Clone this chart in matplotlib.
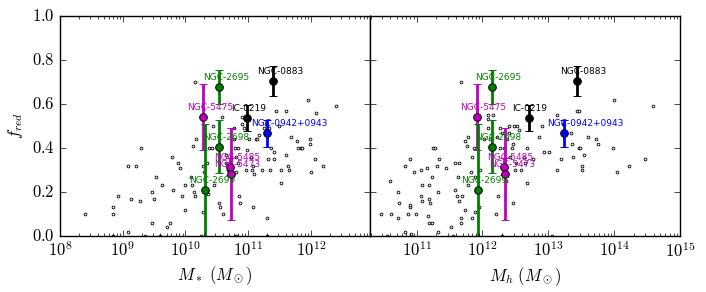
import numpy as np
import matplotlib
matplotlib.use('Agg')
import matplotlib.pyplot as plt
from matplotlib.ticker import FuncFormatter, FormatStrFormatter, LogLocator

plt.style.use('classic')
plt.rcParams['mathtext.fontset'] = 'cm'

# all galaxies: log10 stellar mass and red fraction (left panel)
lgms_all = [8.40, 8.84, 8.84, 8.92, 9.08, 9.13, 9.22, 9.27, 9.29, 9.50, 9.53, 9.47,
            9.63, 9.46, 9.71, 9.75, 9.79, 9.81, 9.89, 9.92, 9.95, 10.0, 10.0, 10.15,
            10.12, 10.17, 10.09, 10.11, 10.13, 10.16, 10.28, 10.28, 10.29, 10.35, 10.36,
            10.37, 10.42, 10.44, 10.45, 10.53, 10.55, 10.58, 10.60, 10.64, 10.64, 10.68,
            10.72, 10.77, 10.77, 10.79, 10.81, 10.84, 10.84, 10.85, 10.87, 10.81, 10.91,
            10.91, 10.93, 10.96, 10.99, 11.01, 11.05, 11.07, 11.08, 11.08, 11.09, 11.12,
            11.15, 11.17, 11.22, 11.25, 11.29, 11.30, 11.31, 11.33, 11.35, 11.37, 11.41,
            11.42, 11.45, 11.50, 11.52, 11.52, 11.61, 11.60, 11.64, 11.66, 11.68, 11.78,
            11.80, 11.84, 11.86, 11.95, 11.98, 11.99, 12.01, 12.07, 12.09, 12.20, 12.41,
            9.08, 8.85, 9.35, 9.60, 10.25, 10.80, 11.30]
fred_ms = [0.10, 0.13, 0.10, 0.18, 0.32, 0.17, 0.32, 0.16, 0.40, 0.17, 0.27, 0.20,
           0.23, 0.06, 0.04, 0.06, 0.36, 0.21, 0.33, 0.31, 0.18, 0.23, 0.12, 0.70,
           0.41, 0.44, 0.27, 0.23, 0.20, 0.18, 0.11, 0.32, 0.29, 0.33, 0.19,
           0.40, 0.40, 0.50, 0.23, 0.15, 0.13, 0.54, 0.10, 0.37, 0.33, 0.30,
           0.36, 0.49, 0.44, 0.40, 0.36, 0.40, 0.33, 0.18, 0.15, 0.29, 0.54,
           0.51, 0.49, 0.30, 0.39, 0.44, 0.36, 0.30, 0.13, 0.32, 0.28, 0.44,
           0.44, 0.46, 0.30, 0.49, 0.51, 0.08, 0.35, 0.49, 0.30, 0.40, 0.35,
           0.38, 0.57, 0.50, 0.30, 0.24, 0.57, 0.37, 0.32, 0.30, 0.45, 0.43,
           0.40, 0.40, 0.40, 0.62, 0.42, 0.44, 0.29, 0.35, 0.56, 0.32, 0.59,
           0.02, 0.0, 0.0, 0.0, 0.0, 0.0, 0.0]

# all galaxies: log10 halo mass and red fraction (right panel)
lgmh_all = [10.46, 10.60, 10.61, 10.71, 10.72, 10.73, 10.83, 10.87, 10.90, 10.90, 10.90,
            10.96, 10.99, 11.06, 11.07, 11.08, 11.08, 11.15, 11.18, 11.19, 11.20, 11.17,
            11.19, 11.24, 11.23, 11.25, 11.28, 11.31, 11.32, 11.34, 11.45, 11.52, 11.58,
            11.58, 11.61, 11.63, 11.64, 11.65, 11.67, 11.68, 11.67, 11.69, 11.73, 11.74,
            11.76, 11.78, 11.78, 11.84, 11.82, 11.84, 11.87, 11.88, 11.89, 11.94, 11.97,
            12.03, 12.08, 12.09, 12.12, 12.09, 12.16, 12.20, 12.22, 12.24, 12.26, 12.27,
            12.29, 12.32, 12.36, 12.37, 12.41, 12.40, 12.42, 12.45, 12.46, 12.47, 12.48,
            12.50, 12.51, 12.53, 12.56, 12.58, 12.63, 12.65, 12.68, 12.68, 12.77, 12.86,
            12.91, 12.93, 13.01, 13.13, 13.14, 13.20, 13.22, 13.23, 13.35, 13.36, 13.38,
            13.44, 13.46, 13.46, 13.48, 13.51, 13.52, 13.55, 13.60, 13.72, 13.75, 13.98,
            14.00, 14.04, 14.22, 14.47, 14.59,
            10.82, 10.92, 11.33, 10.55, 11.55, 12.30, 13.05]
fred_mh = [0.10, 0.25, 0.10, 0.20, 0.08, 0.15, 0.32, 0.10, 0.35, 0.13, 0.14,
           0.29, 0.10, 0.30, 0.18, 0.23, 0.16, 0.31, 0.23, 0.17, 0.15, 0.09,
           0.06, 0.06, 0.27, 0.40, 0.40, 0.32, 0.20, 0.35, 0.31, 0.04, 0.33,
           0.21, 0.18, 0.27, 0.33, 0.16, 0.06, 0.70, 0.08, 0.18, 0.12, 0.43,
           0.41, 0.45, 0.23, 0.08, 0.29, 0.36, 0.40, 0.11, 0.27, 0.13, 0.30,
           0.44, 0.53, 0.55, 0.44, 0.49, 0.55, 0.10, 0.45, 0.18, 0.40, 0.49,
           0.47, 0.40, 0.25, 0.44, 0.47, 0.50, 0.36, 0.40, 0.42, 0.15, 0.50,
           0.30, 0.33, 0.50, 0.48, 0.30, 0.36, 0.33, 0.40, 0.24, 0.35, 0.45,
           0.50, 0.38, 0.38, 0.30, 0.55, 0.35, 0.47, 0.51, 0.47, 0.42, 0.36,
           0.57, 0.57, 0.40, 0.40, 0.32, 0.30, 0.37, 0.45, 0.44, 0.42, 0.40,
           0.62, 0.29, 0.32, 0.35, 0.59,
           0.02, 0.01, 0.02, 0.0, 0.0, 0.0, 0.0]

# highlighted groups
names = ['NGC-5475', 'NGC-2695', 'NGC-2698', 'NGC-2699', 'NGC-5485', 'NGC-5473',
         'IC-0219', 'NGC-0883', 'NGC-0942+0943']
colors = ['m', 'g', 'g', 'g', 'm', 'm', 'k', 'k', 'b']
lgms_hl = [10.28, 10.54, 10.54, 10.31, 10.71, 10.72, 10.98, 11.40, 11.30]
lgmh_hl = [11.92, 12.15, 12.15, 11.93, 12.33, 12.35, 12.70, 13.43, 13.24]
fred_hl = [0.54, 0.676, 0.406, 0.209, 0.315, 0.282, 0.535, 0.705, 0.467]
ferr_hl = [0.15, 0.077, 0.12, 0.30, 0.04, 0.21, 0.06, 0.07, 0.062]

fig, (ax1, ax2) = plt.subplots(1, 2, figsize=(7.06, 2.92), sharey=True)
fig.subplots_adjust(left=0.085, right=0.963, bottom=0.192, top=0.945, wspace=0)


def draw(ax, lx, fy, lx_hl):
    ax.plot(10**np.array(lx), fy, 'o', ms=2, mfc='w', mec='k', mew=0.6)
    for i in range(len(names)):
        x = 10**lx_hl[i]
        ax.errorbar(x, fred_hl[i], yerr=ferr_hl[i], fmt='o', color=colors[i],
                    ms=5.5, mec='k', mew=0.7, elinewidth=2, capsize=3, capthick=1)
    for i in range(len(names)):
        ax.text(10**(lx_hl[i] - 0.256), fred_hl[i] + 0.043, names[i], color=colors[i],
                fontsize=6.5, ha='left', va='center')
    ax.set_xscale('log')
    ax.set_ylim(0, 1)
    ax.xaxis.set_major_locator(LogLocator(base=10))
    ax.xaxis.set_major_formatter(FuncFormatter(lambda v, p: r'$10^{%d}$' % round(np.log10(v))))
    ax.yaxis.set_major_formatter(FormatStrFormatter('$%.1f$'))


draw(ax1, lgms_all, fred_ms, lgms_hl)
draw(ax2, lgmh_all, fred_mh, lgmh_hl)

ax1.set_xlim(1e8, 10**12.944)
ax2.set_xlim(10**10.29, 1e15)
ax2.tick_params(labelleft=False)

ax1.set_xlabel(r'$M_*\ (M_\odot)$', labelpad=3)
ax2.set_xlabel(r'$M_h\ (M_\odot)$', labelpad=3)
ax1.set_ylabel(r'$f_{red}$')

plt.savefig('out.png', dpi=100)
